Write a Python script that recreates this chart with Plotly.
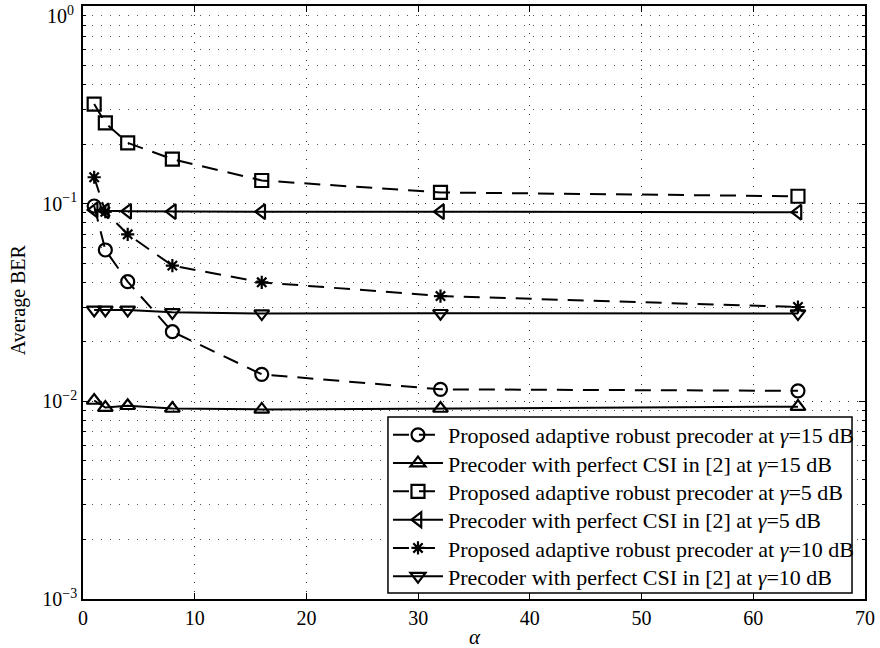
import plotly.graph_objects as go

alpha = [1, 2, 4, 8, 16, 32, 64]

prop_15 = [0.0973, 0.0583, 0.0403, 0.0225, 0.0137, 0.0115, 0.0113]
perf_15 = [0.0101, 0.0093, 0.0095, 0.0092, 0.0091, 0.0092, 0.0094]
prop_5 = [0.319, 0.256, 0.203, 0.168, 0.131, 0.114, 0.109]
perf_5 = [0.093, 0.092, 0.0915, 0.0912, 0.0911, 0.0911, 0.0905]
prop_10 = [0.136, 0.091, 0.070, 0.0486, 0.040, 0.0341, 0.030]
perf_10 = [0.029, 0.029, 0.029, 0.0282, 0.0278, 0.0279, 0.0278]

x_ticks = [0, 10, 20, 30, 40, 50, 60, 70]
y_ticks = [1, 0.1, 0.01, 0.001]
y_ticktext = ["", "10<sup>−1</sup>", "10<sup>−2</sup>", "10<sup>−3</sup>"]
y_top_label = "10<sup>0</sup>"
y_minor = [m * 10.0 ** e for e in (-3, -2, -1) for m in range(2, 10)]

names = [
    "Proposed adaptive robust precoder at <i>γ</i>=15 dB",
    "Precoder with perfect CSI in [2] at <i>γ</i>=15 dB",
    "Proposed adaptive robust precoder at <i>γ</i>=5 dB",
    "Precoder with perfect CSI in [2] at <i>γ</i>=5 dB",
    "Proposed adaptive robust precoder at <i>γ</i>=10 dB",
    "Precoder with perfect CSI in [2] at <i>γ</i>=10 dB",
]
series = [prop_15, perf_15, prop_5, perf_5, prop_10, perf_10]
symbols = ["circle-open", "triangle-up-open", "square-open",
           "triangle-left-open", "asterisk-open", "triangle-down-open"]
dashes = ["16px,10px", "solid", "16px,10px", "solid", "16px,10px", "solid"]

ff = "Liberation Serif, Times New Roman, serif"
font = dict(family=ff, color="black")
grid_dash = "1px,8px"

# legend box geometry (paper coordinates)
box_x0, box_x1, box_y0, box_y1 = 0.390, 0.9834, 0.0101, 0.3069
row_top, row_step = 0.2766, 0.0477
legend_ids = ["legend"] + [f"legend{i}" for i in range(2, 7)]

fig = go.Figure()
for i, (name, ys, sym, d) in enumerate(zip(names, series, symbols, dashes)):
    fig.add_trace(go.Scatter(
        x=alpha, y=ys, name=name, mode="lines+markers",
        legend=legend_ids[i],
        line=dict(color="black", width=2, dash=d),
        marker=dict(symbol=sym, size=13 if sym != "asterisk-open" else 11,
                    color="black", line=dict(color="black", width=2.2)),
    ))

legend_layouts = {}
for i, lid in enumerate(legend_ids):
    legend_layouts[lid] = dict(
        x=box_x0, y=row_top - i * row_step, xanchor="left", yanchor="middle",
        bgcolor="rgba(0,0,0,0)", borderwidth=0,
        font=dict(size=22, **font), itemwidth=50,
    )

fig.update_layout(
    width=880, height=648,
    margin=dict(l=83, r=15, t=6, b=49),
    paper_bgcolor="white", plot_bgcolor="white",
    font=dict(size=20, **font),
    showlegend=True,
    shapes=[dict(type="rect", xref="paper", yref="paper",
                 x0=box_x0, x1=box_x1, y0=box_y0, y1=box_y1,
                 line=dict(color="black", width=1.5), fillcolor="white",
                 layer="above")],
    annotations=[
        dict(text="<i>α</i>", x=0.501, y=-0.064, xref="paper", yref="paper",
             xanchor="center", yanchor="middle", showarrow=False,
             font=dict(size=21, **font)),
        dict(text="Average BER", x=-0.083, y=0.504, xref="paper", yref="paper",
             xanchor="center", yanchor="middle", showarrow=False, textangle=-90,
             font=dict(size=20, **font)),
        dict(text=y_top_label, x=0, y=1, xref="paper", yref="paper",
             xanchor="right", yanchor="top", xshift=-7, yshift=5,
             showarrow=False, font=dict(size=20, **font)),
    ],
    **legend_layouts,
)

fig.update_xaxes(
    range=[0, 70], tickvals=x_ticks,
    showline=True, linecolor="black", linewidth=1.5, mirror="ticks",
    ticks="inside", ticklen=6, tickcolor="black",
    showgrid=True, gridcolor="#333333", griddash=grid_dash, gridwidth=1,
    zeroline=False, automargin=False, ticklabeloverflow="allow",
    tickfont=dict(size=20, **font),
)

fig.update_yaxes(
    type="log", range=[-3, 0],
    tickvals=y_ticks, ticktext=y_ticktext,
    showline=True, linecolor="black", linewidth=1.5, mirror="ticks",
    ticks="inside", ticklen=6, tickcolor="black",
    showgrid=True, gridcolor="#333333", griddash=grid_dash, gridwidth=1,
    minor=dict(tickvals=y_minor, ticks="inside", ticklen=3, tickcolor="black",
               showgrid=True, gridcolor="#555555", griddash=grid_dash, gridwidth=1),
    zeroline=False, automargin=False, ticklabeloverflow="allow",
    tickfont=dict(size=20, **font),
)

fig.write_html("out.html", config={"displayModeBar": False},
               post_script="document.body.style.margin='0';")
